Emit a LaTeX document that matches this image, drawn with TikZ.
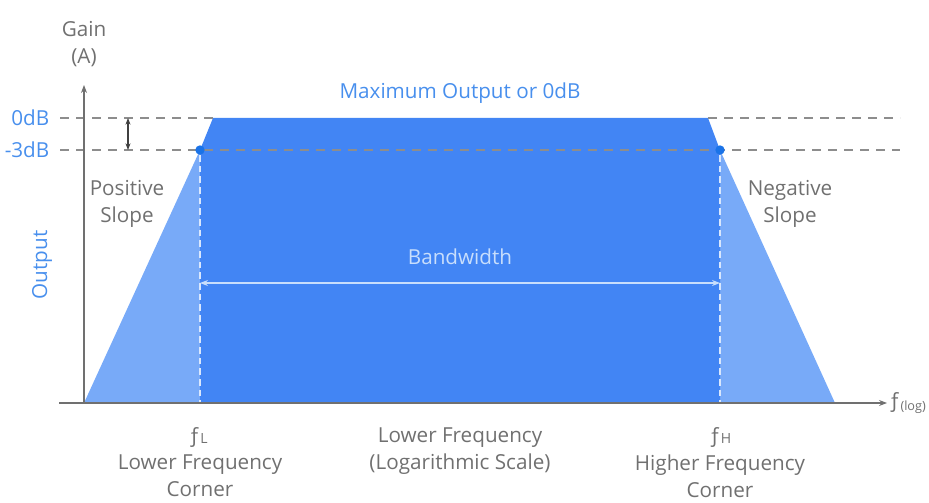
\documentclass[tikz,border=0pt]{standalone}
\usepackage{fontspec}
\setmainfont{Open Sans}
\usetikzlibrary{arrows.meta, positioning}
\definecolor{color1}{RGB}{66,133,244}
\definecolor{color2}{RGB}{120,170,248}
\definecolor{color3}{RGB}{26,115,232}
\definecolor{color4}{RGB}{112,112,112}
\definecolor{color5}{RGB}{200,222,252}
\begin{document}
\begin{tikzpicture}
        [
        x=0.75pt, y=-0.75pt,
            etiqueta/.style={
                text=color4,
                align=center,
                font=\fontsize{15.5}{20}\selectfont
            },
            etiquetaAzul/.style={
                text=color3!80!white,
                align=center,
                font=\fontsize{15.5}{20}\selectfont
            },
            guia/.style={
                dashed,
                dash pattern=on 7pt off 5pt,
                color4!80!white,
                thick
            },
            corte/.style={
                dashed,
                dash pattern=on 5pt off 3pt,
                white!80!color1,
                thick
            },
            eje/.style={
                -{Stealth[length=6pt]},
                color4,
                thick
            },
            punto/.style={
                circle,
                fill=color3,
                inner sep=0pt,
                minimum size=7pt
            }
        ]
        \useasboundingbox (0,0) rectangle (929,503);

        % puntos del trapecio
        \coordinate (origen) at (84,403);
        \coordinate (cimaIzq) at (213,118);
        \coordinate (cimaDer) at (708,118);
        \coordinate (baseDer) at (835,403);
        \coordinate (pieL) at (200,403);
        \coordinate (pieH) at (720,403);

        % relleno
        \fill[color2] (origen) -- (200,150) -- (pieL) -- cycle;
        \fill[color2] (baseDer) -- (720,150) -- (pieH) -- cycle;
        \fill[color1] (200,150) -- (cimaIzq) -- (cimaDer) -- (720,150) -- (pieH) -- (pieL) -- cycle;

        % lineas guia
        \coordinate (ceroIni) at (60,118);
        \coordinate (ceroFin) at (900,118);
        \coordinate (tresIni) at (60,150);
        \coordinate (tresFin) at (900,150);
        \draw[guia] (ceroIni) -- (cimaIzq);
        \draw[guia] (cimaDer) -- (ceroFin);
        \draw[guia] (tresIni) -- (tresFin);

        \node(fL) [punto] at (200,150) {};
        \node(fH) [punto] at (720,150) {};
        \draw[corte] (fL) -- (pieL);
        \draw[corte] (fH) -- (pieH);

        % ejes
        \coordinate (ejeIni) at (59,403);
        \node(ejeX) [etiqueta, anchor=west, inner sep=1pt] at (887,403) {ƒ\raisebox{-0.2ex}{\fontsize{9.5}{11}\selectfont(log)}};
        \draw[eje] (ejeIni) -- (ejeX.west);
        \coordinate (ejeYtope) at (84,85);
        \draw[eje] (origen) -- (ejeYtope);

        % flecha de 3dB
        \coordinate (flechaA) at (128,118);
        \coordinate (flechaB) at (128,150);
        \draw[{Stealth[length=5pt]}-{Stealth[length=5pt]}, black!75, thick] (flechaA) -- (flechaB);

        % ancho de banda
        \coordinate (bandaA) at (200,283);
        \coordinate (bandaB) at (720,283);
        \draw[{Stealth[length=6pt]}-{Stealth[length=6pt]}, color5, thick] (bandaA) -- (bandaB);
        \node(banda) [etiqueta, text=color5] at (460,257) {Bandwidth};

        % textos
        \node(ganancia) [etiqueta] at (84,44) {Gain\\(A)};
        \node(cero) [etiquetaAzul, anchor=east] at (54,118) {0dB};
        \node(tres) [etiquetaAzul, anchor=east] at (54,150) {-3dB};
        \node(maximo) [etiquetaAzul] at (460,93) {Maximum Output or 0dB};
        \node(salida) [etiquetaAzul, rotate=90] at (42,265) {Output};
        \node(positiva) [etiqueta] at (127,204) {Positive\\Slope};
        \node(negativa) [etiqueta] at (790,204) {Negative\\Slope};
        \node(simboloL) [etiqueta] at (198,437) {ƒ\raisebox{-0.1ex}{\fontsize{10.5}{12}\selectfont L}};
        \node(esquinaL) [etiqueta] at (200,476) {Lower Frequency\\Corner};
        \node(escala) [etiqueta] at (460,451) {Lower Frequency\\(Logarithmic Scale)};
        \node(simboloH) [etiqueta] at (720,437) {ƒ\raisebox{-0.1ex}{\fontsize{10.5}{12}\selectfont H}};
        \node(esquinaH) [etiqueta] at (720,476) {Higher Frequency\\Corner};
    \end{tikzpicture}
\end{document}
